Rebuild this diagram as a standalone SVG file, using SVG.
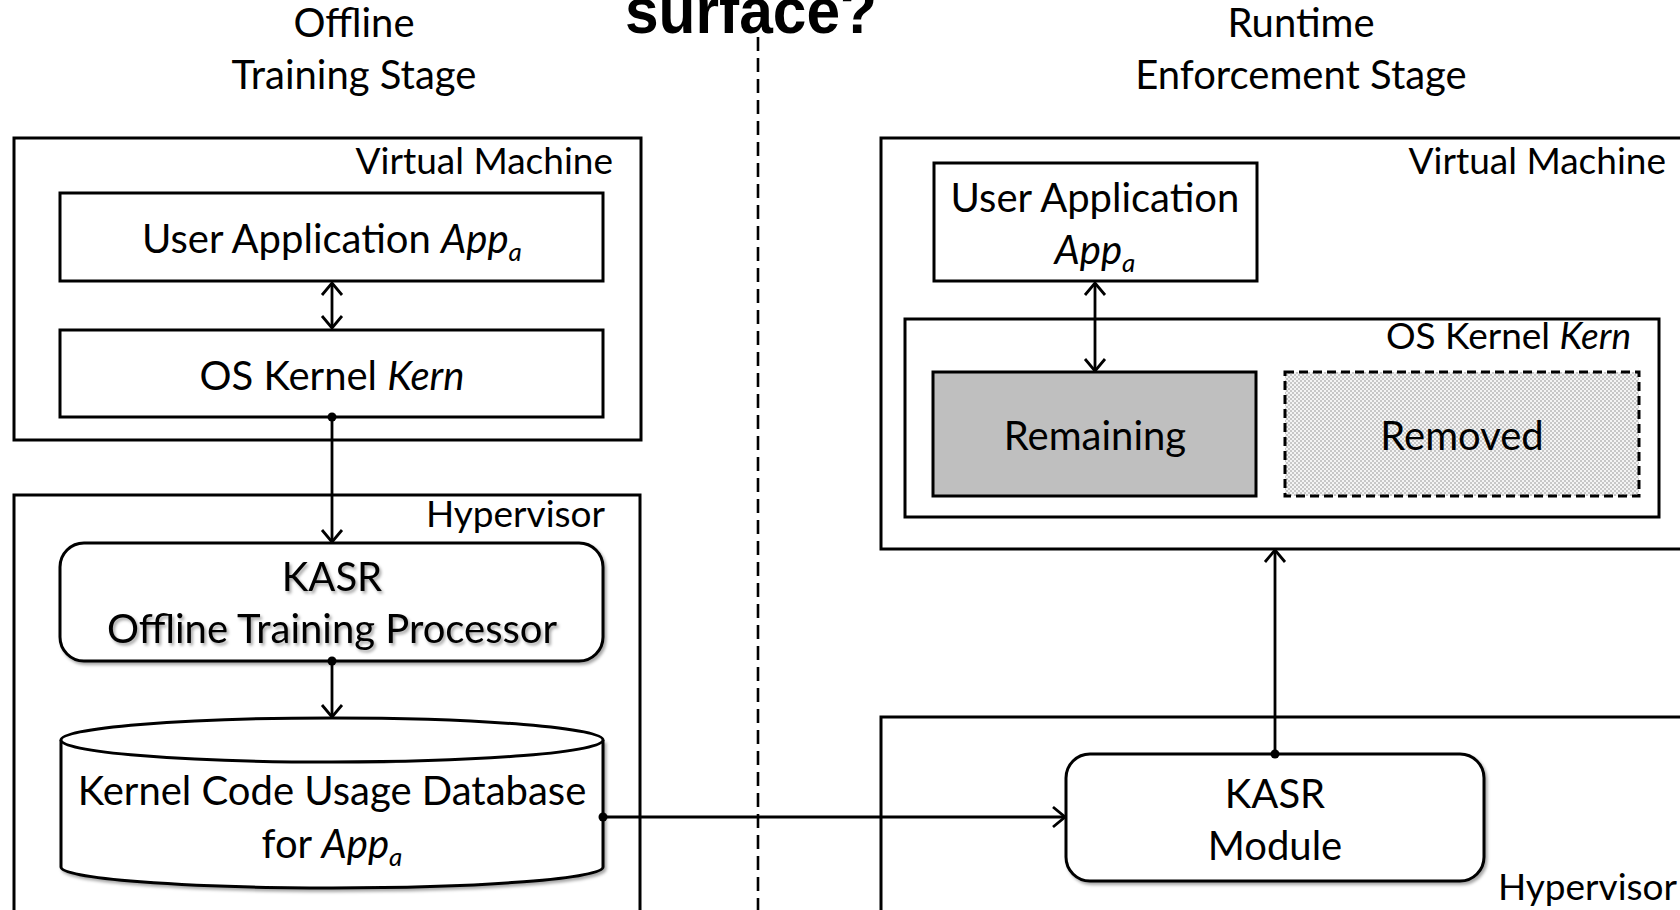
<svg xmlns="http://www.w3.org/2000/svg" width="1680" height="910" viewBox="0 0 1680 910">
<style>
  .t { font-family: Lato, "Open Sans", sans-serif; fill: #000; }
  .m { font-size: 40px; }
  .l { font-size: 37px; }
  .c { text-anchor: middle; }
  .r { text-anchor: end; }
  .it { font-style: italic; }
  .sub { font-size: 26px; font-style: italic; }
  .box { fill: #fff; stroke: #000; stroke-width: 3; }
  .frame { fill: none; stroke: #000; stroke-width: 3; }
  .conn { fill: none; stroke: #000; stroke-width: 2.8; }
</style>
<defs>
  <marker id="arr" viewBox="-16 -12 18 24" markerWidth="18" markerHeight="24" refX="0" refY="0" orient="auto-start-reverse" markerUnits="userSpaceOnUse">
    <path d="M-12,-10 L0,0 L-12,10" fill="none" stroke="#000" stroke-width="2.8"/>
  </marker>
  <filter id="sh" x="-5%" y="-5%" width="115%" height="120%">
    <feDropShadow dx="2" dy="2.5" stdDeviation="1.5" flood-color="#000" flood-opacity="0.35"/>
  </filter>
  <pattern id="dots" width="4" height="4" patternUnits="userSpaceOnUse">
    <rect width="4" height="4" fill="#f4f4f4"/>
    <circle cx="1" cy="1" r="0.7" fill="#777"/>
    <circle cx="3" cy="3" r="0.7" fill="#777"/>
  </pattern>
</defs>

<g id="titles">
  <text class="t m c" x="354" y="37">Offline</text>
  <text class="t m c" x="354" y="89">Training Stage</text>
  <text class="t m c" x="1301" y="37">Runtime</text>
  <text class="t m c" x="1301" y="89">Enforcement Stage</text>
  <text x="751" y="33" font-family="'Liberation Sans', Arial, sans-serif" font-weight="bold" font-size="64" text-anchor="middle" textLength="252" lengthAdjust="spacingAndGlyphs">surface?</text>
</g>

<g id="divider">
  <line x1="758" y1="37" x2="758" y2="910" stroke="#000" stroke-width="2.6" stroke-dasharray="14 7"/>
</g>

<g id="vm-left">
  <rect class="frame" x="14" y="138" width="627" height="302"/>
  <text class="t l r" x="613" y="174">Virtual Machine</text>
</g>
<g id="app-left">
  <rect class="box" x="60" y="193" width="543" height="88"/>
  <text class="t m c" x="332" y="253">User Application <tspan class="it">App</tspan><tspan class="sub" dy="8">a</tspan></text>
</g>
<g id="kernel-left">
  <rect class="box" x="60" y="330" width="543" height="87"/>
  <text class="t m c" x="332" y="390">OS Kernel <tspan class="it">Kern</tspan></text>
</g>

<g id="hyp-left">
  <rect class="frame" x="14" y="495" width="626" height="440"/>
  <text class="t l r" x="605" y="527">Hypervisor</text>
</g>
<g id="kasr-training">
  <rect class="box" x="60" y="543" width="543" height="118" rx="24" filter="url(#sh)"/>
  <g filter="url(#sh)">
    <text class="t m c" x="332" y="591">KASR</text>
    <text class="t m c" x="332" y="643">Offline Training Processor</text>
  </g>
</g>
<g id="database">
  <path d="M61,740 L61,867 A271,21 0 0 0 603,867 L603,740" fill="#fff" stroke="#000" stroke-width="3" filter="url(#sh)"/>
  <ellipse cx="332" cy="740" rx="271" ry="22" fill="#fff" stroke="#000" stroke-width="3"/>
  <text class="t m c" x="332" y="805">Kernel Code Usage Database</text>
  <text class="t m c" x="332" y="858">for <tspan class="it">App</tspan><tspan class="sub" dy="8">a</tspan></text>
</g>

<g id="vm-right">
  <rect class="frame" x="881" y="138" width="820" height="411"/>
  <text class="t l r" x="1666" y="174">Virtual Machine</text>
</g>
<g id="app-right">
  <rect class="box" x="934" y="163" width="323" height="118"/>
  <text class="t m c" x="1095" y="212">User Application</text>
  <text class="t m c" x="1095" y="264"><tspan class="it">App</tspan><tspan class="sub" dy="8">a</tspan></text>
</g>
<g id="kernel-right">
  <rect class="frame" x="905" y="319" width="754" height="198"/>
  <text class="t l r" x="1631" y="349">OS Kernel <tspan class="it">Kern</tspan></text>
</g>
<g id="remaining">
  <rect x="933" y="372" width="323" height="124" fill="#bfbfbf" stroke="#000" stroke-width="3"/>
  <text class="t m c" x="1095" y="450">Remaining</text>
</g>
<g id="removed">
  <rect x="1285" y="372" width="354" height="124" fill="url(#dots)" stroke="#000" stroke-width="3" stroke-dasharray="9 5"/>
  <text class="t m c" x="1462" y="450">Removed</text>
</g>

<g id="hyp-right">
  <rect class="frame" x="881" y="717" width="820" height="220"/>
  <text class="t l r" x="1677" y="900">Hypervisor</text>
</g>
<g id="kasr-module">
  <rect class="box" x="1066" y="754" width="418" height="127" rx="24" filter="url(#sh)"/>
  <text class="t m c" x="1275" y="808">KASR</text>
  <text class="t m c" x="1275" y="860">Module</text>
</g>

<g id="connectors">
  <line class="conn" x1="332" y1="283" x2="332" y2="328" marker-start="url(#arr)" marker-end="url(#arr)"/>
  <line class="conn" x1="332" y1="417" x2="332" y2="542" marker-end="url(#arr)"/>
  <circle cx="332" cy="417" r="4.5"/>
  <line class="conn" x1="332" y1="661" x2="332" y2="717" marker-end="url(#arr)"/>
  <circle cx="332" cy="661" r="4.5"/>
  <line class="conn" x1="603" y1="817" x2="1065" y2="817" marker-end="url(#arr)"/>
  <circle cx="603" cy="817" r="4.5"/>
  <line class="conn" x1="1095" y1="283" x2="1095" y2="371" marker-start="url(#arr)" marker-end="url(#arr)"/>
  <line class="conn" x1="1275" y1="754" x2="1275" y2="550" marker-end="url(#arr)"/>
  <circle cx="1275" cy="754" r="4.5"/>
</g>
</svg>
